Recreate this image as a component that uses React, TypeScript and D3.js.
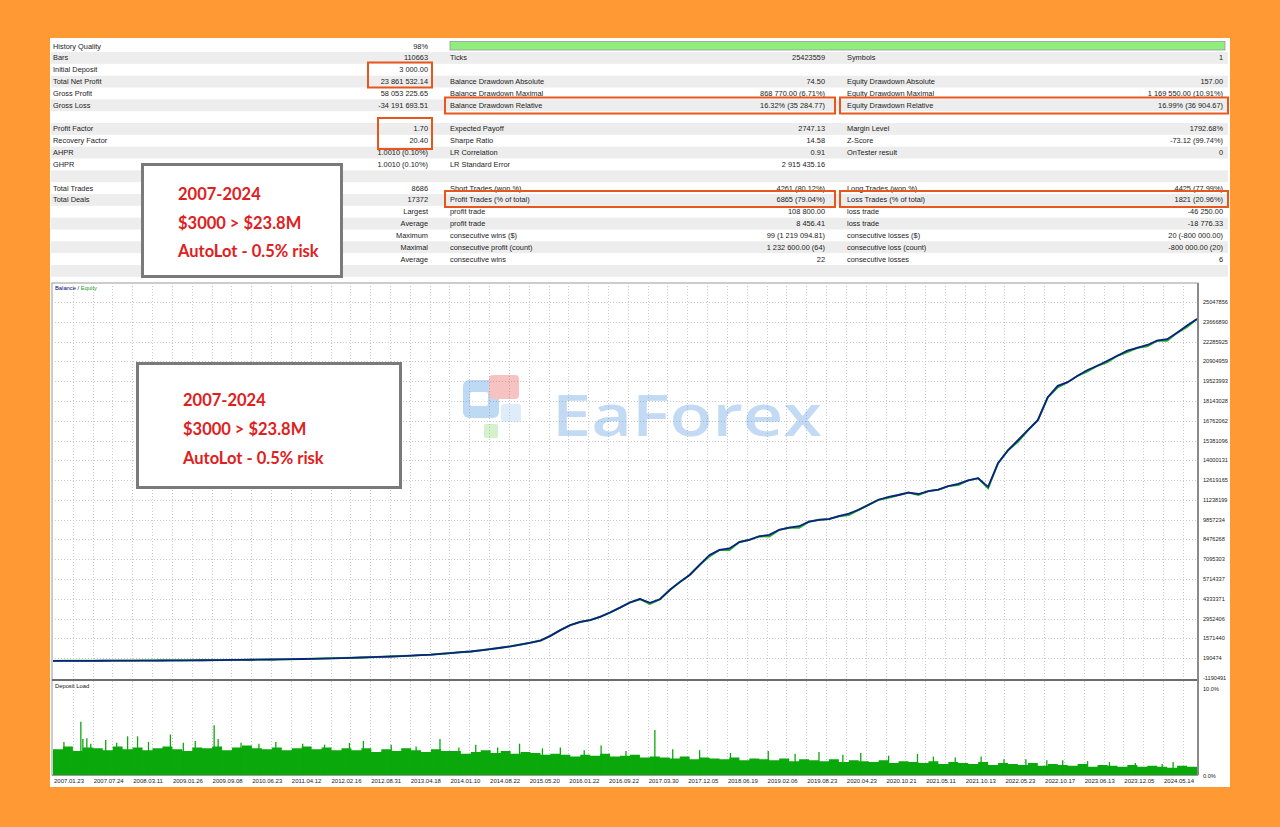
import React from 'react';
import * as d3 from 'd3';

const W = 1280;
const H = 827;

// ---------- table ----------
const tableRows: string[][] = [
  ['History Quality', '98%', '', '', '', ''],
  ['Bars', '110663', 'Ticks', '25423559', 'Symbols', '1'],
  ['Initial Deposit', '3 000.00', '', '', '', ''],
  ['Total Net Profit', '23 861 532.14', 'Balance Drawdown Absolute', '74.50', 'Equity Drawdown Absolute', '157.00'],
  ['Gross Profit', '58 053 225.65', 'Balance Drawdown Maximal', '868 770.00 (6.71%)', 'Equity Drawdown Maximal', '1 169 550.00 (10.91%)'],
  ['Gross Loss', '-34 191 693.51', 'Balance Drawdown Relative', '16.32% (35 284.77)', 'Equity Drawdown Relative', '16.99% (36 904.67)'],
  ['', '', '', '', '', ''],
  ['Profit Factor', '1.70', 'Expected Payoff', '2747.13', 'Margin Level', '1792.68%'],
  ['Recovery Factor', '20.40', 'Sharpe Ratio', '14.58', 'Z-Score', '-73.12 (99.74%)'],
  ['AHPR', '1.0010 (0.10%)', 'LR Correlation', '0.91', 'OnTester result', '0'],
  ['GHPR', '1.0010 (0.10%)', 'LR Standard Error', '2 915 435.16', '', ''],
  ['', '', '', '', '', ''],
  ['Total Trades', '8686', 'Short Trades (won %)', '4261 (80.12%)', 'Long Trades (won %)', '4425 (77.99%)'],
  ['Total Deals', '17372', 'Profit Trades (% of total)', '6865 (79.04%)', 'Loss Trades (% of total)', '1821 (20.96%)'],
  ['', 'Largest', 'profit trade', '108 800.00', 'loss trade', '-46 250.00'],
  ['', 'Average', 'profit trade', '8 456.41', 'loss trade', '-18 776.33'],
  ['', 'Maximum', 'consecutive wins ($)', '99 (1 219 094.81)', 'consecutive losses ($)', '20 (-800 000.00)'],
  ['', 'Maximal', 'consecutive profit (count)', '1 232 600.00 (64)', 'consecutive loss (count)', '-800 000.00 (20)'],
  ['', 'Average', 'consecutive wins', '22', 'consecutive losses', '6'],
  ['', '', '', '', '', ''],
];

const overlayLines = ['2007-2024', '$3000 > $23.8M', 'AutoLot - 0.5% risk'];

// ---------- chart data ----------
const yTicks = [
  25047856, 23666890, 22285925, 20904959, 19523993, 18143028, 16762062, 15381096, 14000131,
  12619165, 11238199, 9857234, 8476268, 7095303, 5714337, 4333371, 2952406, 1571440, 190474, -1190491,
];

const xLabels = [
  '2007.01.23', '2007.07.24', '2008.03.11', '2009.01.26', '2009.09.08', '2010.06.23', '2011.04.12',
  '2012.02.16', '2012.08.31', '2013.04.18', '2014.01.10', '2014.08.22', '2015.05.20', '2016.01.22',
  '2016.09.22', '2017.03.30', '2017.12.05', '2018.06.19', '2019.02.06', '2019.08.23', '2020.04.23',
  '2020.10.21', '2021.05.11', '2021.10.13', '2022.05.23', '2022.10.17', '2023.06.13', '2023.12.05',
  '2024.05.14',
];

// balance in millions, evenly spaced along the test
const balanceM = [
  0.003, 0.005, 0.007, 0.009, 0.011, 0.013, 0.016, 0.018, 0.021, 0.024,
  0.027, 0.031, 0.035, 0.039, 0.044, 0.049, 0.055, 0.061, 0.068, 0.075,
  0.083, 0.092, 0.101, 0.112, 0.123, 0.136, 0.15, 0.165, 0.18, 0.2,
  0.22, 0.24, 0.26, 0.29, 0.31, 0.34, 0.37, 0.41, 0.44, 0.5,
  0.55, 0.61, 0.66, 0.74, 0.83, 0.92, 1.02, 1.14, 1.27, 1.42,
  1.75, 2.15, 2.5, 2.72, 2.85, 3.08, 3.38, 3.72, 4.08, 4.32,
  4.05, 4.3, 4.95, 5.5, 6.0, 6.7, 7.4, 7.75, 7.85, 8.3,
  8.45, 8.7, 8.8, 9.15, 9.3, 9.4, 9.72, 9.85, 9.9, 10.1,
  10.28, 10.55, 10.9, 11.25, 11.45, 11.58, 11.75, 11.65, 11.85, 11.95,
  12.2, 12.35, 12.6, 12.75, 12.15, 13.8, 14.7, 15.4, 16.1, 16.8,
  18.4, 19.2, 19.45, 19.9, 20.3, 20.6, 20.95, 21.3, 21.65, 21.85,
  22.05, 22.35, 22.45, 22.9, 23.4, 23.86,
];

// equity dips below balance: [index, value in millions]
const equityDips: [number, number][] = [
  [60, 3.98], [66, 7.3], [68, 7.75], [72, 8.68], [75, 9.3], [80, 10.18], [84, 11.38], [87, 11.58],
  [91, 12.27], [94, 12.05], [97, 15.3], [101, 19.1], [104, 20.2], [106, 20.85], [108, 21.55],
  [110, 21.95], [112, 22.35], [114, 23.3],
];

// deposit load (%), base level along the test
const depositBase = [
  2.8, 3.1, 2.6, 3.0, 2.9, 2.7, 3.1, 2.8, 3.0, 2.7, 2.9, 3.1, 2.8, 2.6, 3.0, 2.9, 3.1, 2.7, 3.0, 3.2,
  2.9, 2.8, 3.0, 2.7, 2.9, 3.1, 2.8, 3.0, 2.7, 2.9,
  2.7, 2.9, 2.5, 2.8, 2.6, 2.9, 2.7, 2.5, 2.8, 2.6, 2.6, 2.3, 2.5, 2.7, 2.4, 2.6, 2.3, 2.5, 2.4, 2.2,
  2.3, 2.2, 2.0, 2.2, 2.1, 2.3, 2.0, 2.1, 2.2, 1.9, 2.0, 1.9, 1.8, 2.0, 1.7, 1.9, 1.8, 1.7, 1.9, 1.6,
  1.8, 1.7, 1.6, 1.8, 1.5, 1.7, 1.6, 1.5, 1.7, 1.4, 1.6, 1.5, 1.4, 1.6, 1.3, 1.5, 1.4, 1.3, 1.5, 1.2,
  1.4, 1.3, 1.2, 1.4, 1.1, 1.3, 1.2, 1.1, 1.3, 1.0, 1.2, 1.1, 1.0, 1.2, 0.9, 1.1, 1.0, 0.9, 1.1, 0.9,
  1.0, 0.9, 0.8, 1.0, 0.9, 0.8,
];

// deposit load spikes: [index, %]
const depositSpikes: [number, number][] = [
  [1.1, 3.6], [2.8, 5.8], [3.0, 3.9], [3.4, 4.0], [3.8, 3.4], [5.3, 3.8], [6.4, 3.5], [7.5, 4.2],
  [8.5, 4.2], [9.6, 3.6], [11.8, 4.4], [13.1, 3.5], [14.3, 3.7], [16.2, 5.4], [16.6, 3.9],
  [18.9, 3.5], [20.7, 3.4], [22.4, 3.6], [25.1, 3.4], [27.3, 3.3], [29.8, 3.5], [31.2, 3.7],
  [34.0, 3.3], [36.5, 3.1], [38.9, 3.9], [40.8, 3.0], [42.5, 3.3], [44.7, 3.0], [46.9, 3.4],
  [49.2, 2.9], [51.0, 3.0], [53.4, 2.7], [55.1, 3.2], [57.6, 2.6], [60.5, 4.9], [62.3, 2.8],
  [65.0, 2.7], [68.1, 2.4], [71.9, 2.6], [74.6, 2.3], [77.0, 2.5], [79.4, 2.2], [81.2, 2.4],
  [84.0, 2.1], [86.9, 2.3], [88.5, 2.0], [90.7, 1.9], [93.3, 2.0], [95.6, 1.7], [97.8, 1.7],
  [99.9, 1.6], [101.5, 1.6], [104.0, 1.5], [106.2, 1.4], [108.8, 1.3], [111.5, 1.2], [112.6, 1.4],
];

// ---------- geometry ----------
const panel = { x: 50, y: 38, w: 1180, h: 749 };
const rowTop = 40.2;
const rowH = 11.83;
const col = { l1: 53, v1: 428, l2: 450, v2: 825, l3: 847, v3: 1223 };
const chart = { left: 52, right: 1198, top: 283, bottom: 679, loadTop: 681, loadBottom: 775 };

const ORANGE = '#FF9933';
const HIGHLIGHT = '#E8561C';
const TEXT = '#1b1b1b';
const FONT = '"Liberation Sans", Arial, sans-serif';

export default function App() {
  const n = balanceM.length;
  const x = d3.scaleLinear().domain([0, n - 1]).range([chart.left + 1, chart.right - 1]);
  const y = d3.scaleLinear().domain([yTicks[yTicks.length - 1], yTicks[0]]).range([678, 302]);
  const load = d3.scaleLinear().domain([0, 10]).range([chart.loadBottom, 683]);
  const xLab = d3.scaleLinear().domain([0, xLabels.length - 1]).range([54, 1164]);
  const step = (1164 - 54) / (xLabels.length - 1) / 2;
  const gridX = d3.range(1, 58).map((k) => 53 + k * step).filter((v) => v < chart.right - 2);

  const dipMap = new Map(equityDips.map(([i, v]) => [i, v]));
  const equityM = balanceM.map((v, i) => (dipMap.has(i) ? (dipMap.get(i) as number) : v));

  const line = d3
    .line<number>()
    .x((_, i) => x(i))
    .y((d) => y(d * 1e6));

  const area = d3
    .area<number>()
    .x((_, i) => x(i))
    .y0(load(0))
    .y1((d) => load(d))
    .curve(d3.curveStepAfter);

  const rowY = (i: number) => rowTop + i * rowH;

  return (
    <svg
      width={W}
      height={H}
      viewBox={`0 0 ${W} ${H}`}
      style={{ position: 'absolute', left: 0, top: 0, display: 'block' }}
      fontFamily={FONT}
    >
      <rect x={0} y={0} width={W} height={H} fill={ORANGE} />
      <rect x={panel.x} y={panel.y} width={panel.w} height={panel.h} fill="#ffffff" />

      {/* table stripes */}
      {tableRows.map((_, i) =>
        i % 2 === 1 ? (
          <rect key={`s${i}`} x={panel.x + 1} y={rowY(i)} width={1177} height={rowH} fill="#ededed" />
        ) : null
      )}

      {/* history quality bar */}
      <rect x={450} y={41.5} width={775} height={8.5} fill="#90ee7e" stroke="#9a9a9a" strokeWidth={0.8} />

      {/* table text */}
      <g fontSize={7.4} fill={TEXT}>
        {tableRows.map((r, i) => {
          const by = rowY(i) + 8.4;
          return (
            <g key={`r${i}`}>
              <text x={col.l1} y={by}>{r[0]}</text>
              <text x={col.v1} y={by} textAnchor="end">{r[1]}</text>
              <text x={col.l2} y={by}>{r[2]}</text>
              <text x={col.v2} y={by} textAnchor="end">{r[3]}</text>
              <text x={col.l3} y={by}>{r[4]}</text>
              <text x={col.v3} y={by} textAnchor="end">{r[5]}</text>
            </g>
          );
        })}
      </g>

      {/* highlight boxes */}
      <g fill="none" stroke={HIGHLIGHT} strokeWidth={2}>
        <rect x={368} y={62.5} width={64} height={25} />
        <rect x={378} y={118} width={54} height={31} />
        <rect x={445} y={97.5} width={390} height={16} />
        <rect x={840} y={97.5} width={388} height={16} />
        <rect x={445} y={191} width={390} height={16} />
        <rect x={840} y={191} width={388} height={16} />
      </g>

      {/* overlay box 1 */}
      <rect x={142.5} y={164.5} width={199} height={112} fill="#ffffff" stroke="#7a7a7a" strokeWidth={3} />
      <g fontFamily="Lato, 'Open Sans', sans-serif" fontWeight={700} fontSize={16.5} fill="#e0201c">
        {overlayLines.map((t, i) => (
          <text key={`o1${i}`} x={178} y={200 + i * 28.5}>{t}</text>
        ))}
      </g>

      {/* chart background + grid */}
      <rect x={chart.left} y={chart.top} width={chart.right - chart.left} height={chart.loadBottom - chart.top} fill="#ffffff" stroke="#9a9a9a" strokeWidth={1} />
      <g stroke="#c9c9c9" strokeWidth={1} strokeDasharray="1,2">
        {yTicks.slice(0, -1).map((t) => (
          <line key={`gy${t}`} x1={chart.left} x2={chart.right} y1={Math.round(y(t)) + 0.5} y2={Math.round(y(t)) + 0.5} />
        ))}
        {gridX.map((gx) => (
          <g key={`gx${gx}`}>
            <line x1={Math.round(gx) + 0.5} x2={Math.round(gx) + 0.5} y1={chart.top} y2={chart.bottom} />
            <line x1={Math.round(gx) + 0.5} x2={Math.round(gx) + 0.5} y1={chart.loadTop} y2={chart.loadBottom} />
          </g>
        ))}
      </g>

      {/* watermark */}
      <g opacity={0.33}>
        <rect x={463} y={380} width={36} height={38} rx={6} fill="#3d8fe0" />
        <rect x={489} y={375} width={30} height={24} rx={4} fill="#e84848" />
        <rect x={470} y={392} width={18} height={14} rx={2} fill="#ffffff" />
        <rect x={484} y={424} width={14} height={14} rx={2} fill="#7fd36a" />
        <rect x={501} y={404} width={20} height={18} rx={3} fill="#9fc6f0" />
        <text x={552} y={436} fontFamily="'Open Sans', Lato, sans-serif" fontSize={58} fontWeight={600} fill="#4a92e0" textLength={270} lengthAdjust="spacingAndGlyphs">
          EaForex
        </text>
      </g>

      {/* curves */}
      <path d={line(equityM) || ''} fill="none" stroke="#1fb81f" strokeWidth={2} />
      <path d={line(balanceM) || ''} fill="none" stroke="#0e1f86" strokeWidth={1.8} />

      {/* deposit load */}
      <path d={area(depositBase) || ''} fill="#0aa80a" />
      <g stroke="#0aa80a" strokeWidth={1.3}>
        {depositSpikes.map(([i, v]) => (
          <line key={`sp${i}`} x1={x(i)} x2={x(i)} y1={load(0)} y2={load(v)} />
        ))}
      </g>

      {/* separators / axis lines */}
      <line x1={chart.left} x2={chart.right + 1} y1={680} y2={680} stroke="#6d6d6d" strokeWidth={2} />
      <line x1={chart.right} x2={chart.right} y1={chart.top} y2={chart.loadBottom} stroke="#8a8a8a" strokeWidth={2} />
      <line x1={chart.left} x2={chart.right} y1={chart.loadBottom + 0.5} y2={chart.loadBottom + 0.5} stroke="#9a9a9a" strokeWidth={1} />

      {/* legends */}
      <text x={55} y={290} fontSize={5.8}>
        <tspan fill="#000080">Balance</tspan>
        <tspan fill="#222"> / </tspan>
        <tspan fill="#12a012">Equity</tspan>
      </text>
      <text x={55} y={688} fontSize={5.8} fill="#111">Deposit Load</text>

      {/* right axis */}
      <g fontSize={5.6} fill="#222">
        {yTicks.map((t) => (
          <text key={`yt${t}`} x={1203} y={y(t) + 2}>{t}</text>
        ))}
        <text x={1203} y={691}>10.0%</text>
        <text x={1203} y={778}>0.0%</text>
      </g>

      {/* bottom axis */}
      <g fontSize={6} fill="#222">
        {xLabels.map((l, i) => (
          <text key={`xl${l}`} x={xLab(i)} y={782.5}>{l}</text>
        ))}
      </g>

      {/* overlay box 2 */}
      <rect x={137.5} y={363.5} width={263} height={124} fill="#ffffff" stroke="#7a7a7a" strokeWidth={3} />
      <g fontFamily="Lato, 'Open Sans', sans-serif" fontWeight={700} fontSize={16.5} fill="#e0201c">
        {overlayLines.map((t, i) => (
          <text key={`o2${i}`} x={183} y={406 + i * 29}>{t}</text>
        ))}
      </g>
    </svg>
  );
}
